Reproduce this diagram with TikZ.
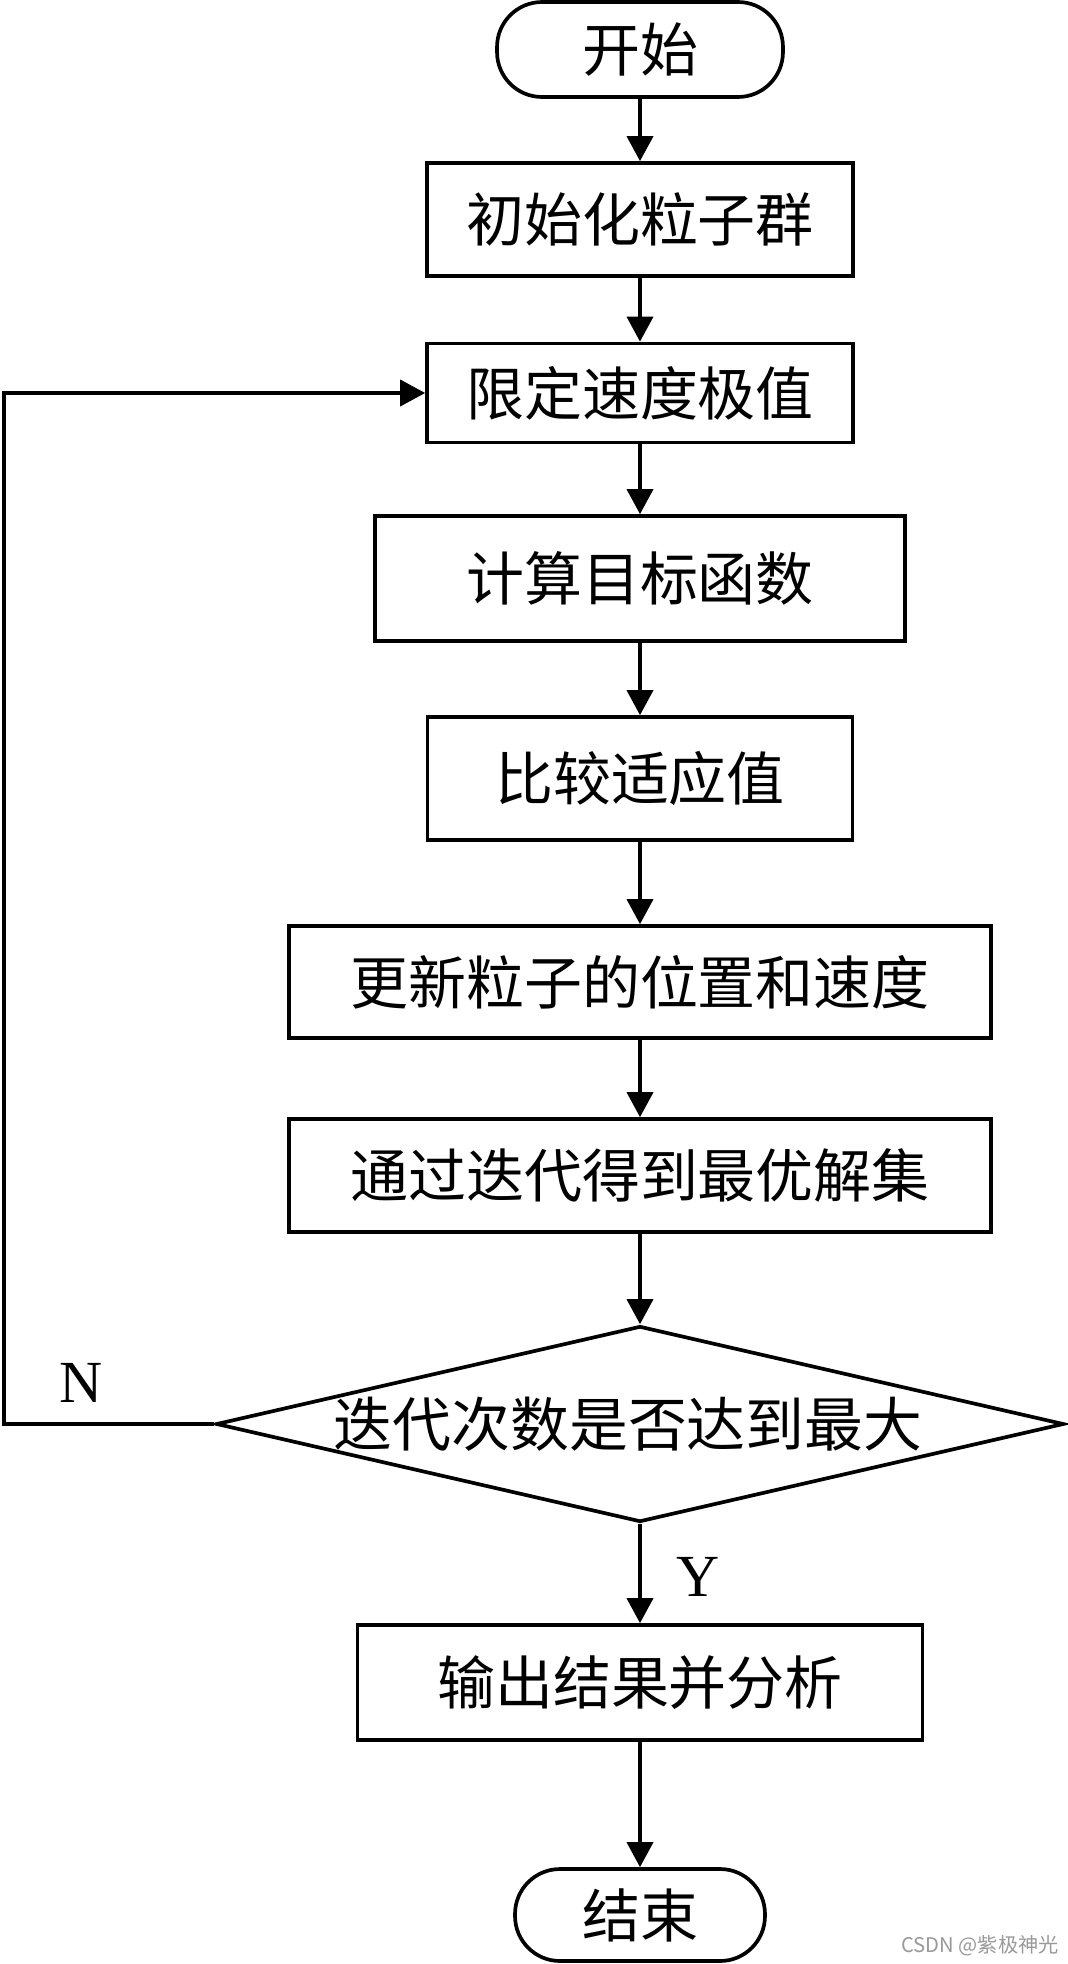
\documentclass[tikz,border=0pt]{standalone}
\usepackage{fontspec}
\setmainfont{Liberation Serif}
\newfontfamily\cjk{Noto Sans CJK SC}
\usetikzlibrary{arrows.meta,shapes.geometric}
\begin{document}
\begin{tikzpicture}[x=0.02cm,y=-0.02cm,
  line width=2.1pt,
  box/.style={draw, rectangle, inner sep=0pt, font=\cjk\fontsize{33}{40}\selectfont},
  term/.style={draw, rectangle, rounded corners=0.9cm, inner sep=0pt, font=\cjk\fontsize{33}{40}\selectfont},
  dec/.style={draw, diamond, inner sep=0pt, aspect=4.33, font=\cjk\fontsize{33.5}{40}\selectfont},
  arr/.style={-{Triangle[length=0.5cm,width=0.52cm]}},
  lab/.style={font=\fontsize{34}{40}\selectfont, inner sep=0pt},
]
\useasboundingbox (0,0) rectangle (1068,1964);
\fill[white] (0,0) rectangle (1068,1964);

\node[term, minimum width=5.72cm, minimum height=1.9cm] (start) at (640,49.5) {开始};
\node[box, minimum width=8.52cm, minimum height=2.26cm] (b1) at (640,219.5) {初始化粒子群};
\node[box, minimum width=8.52cm, minimum height=1.98cm] (b2) at (640,393) {限定速度极值};
\node[box, minimum width=10.6cm, minimum height=2.5cm] (b3) at (640,578.5) {计算目标函数};
\node[box, minimum width=8.5cm, minimum height=2.46cm] (b4) at (640,778.5) {比较适应值};
\node[box, minimum width=14.04cm, minimum height=2.24cm] (b5) at (640,982) {更新粒子的位置和速度};
\node[box, minimum width=14.04cm, minimum height=2.26cm] (b6) at (640,1175.5) {通过迭代得到最优解集};
\node[dec, minimum width=16.96cm, minimum height=3.92cm] (dia) at (640,1424) {\makebox[0pt]{\hspace*{-0.48cm}迭代次数是否达到最大}};
\node[box, minimum width=11.3cm, minimum height=2.3cm] (b7) at (640,1682.5) {输出结果并分析};
\node[term, minimum width=5.0cm, minimum height=1.84cm] (end) at (640,1915) {结束};

\node[lab] (nlab) at (81,1383) {N};
\node[lab] (ylab) at (698,1577) {Y};
\node[font=\cjk\fontsize{11.5}{14}\selectfont, text=gray!80, inner sep=0pt] (wm) at (980,1946) {CSDN @紫极神光};

\draw[arr] (start.south) -- (b1.north);
\draw[arr] (b1.south) -- (b2.north);
\draw[arr] (b2.south) -- (b3.north);
\draw[arr] (b3.south) -- (b4.north);
\draw[arr] (b4.south) -- (b5.north);
\draw[arr] (b5.south) -- (b6.north);
\draw[arr] (b6.south) -- (dia.north);
\draw[arr] (dia.south) -- (b7.north);
\draw[arr] (b7.south) -- (end.north);

\coordinate (fb1) at (4,1424);
\coordinate (fb2) at (4,393);
\draw[arr] (dia.west) -- (fb1) -- (fb2) -- (b2.west);
\end{tikzpicture}
\end{document}
